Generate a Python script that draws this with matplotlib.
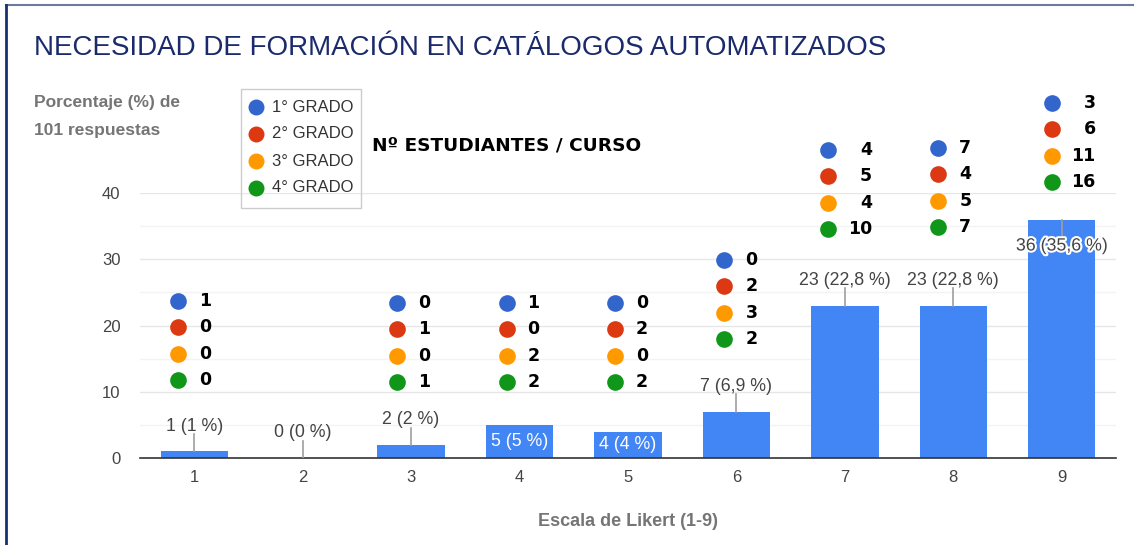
import matplotlib
matplotlib.use('Agg')
import matplotlib.pyplot as plt
import matplotlib.patheffects as pe
from matplotlib.lines import Line2D
from matplotlib.patches import Rectangle

# ---------------- data ----------------
likert = [1, 2, 3, 4, 5, 6, 7, 8, 9]
respuestas = [1, 0, 2, 5, 4, 7, 23, 23, 36]
porcentajes = ['1', '0', '2', '5', '4', '6,9', '22,8', '22,8', '35,6']
grado1 = [1, 0, 0, 1, 0, 0, 4, 7, 3]
grado2 = [0, 0, 1, 0, 2, 2, 5, 4, 6]
grado3 = [0, 0, 0, 2, 0, 3, 4, 5, 11]
grado4 = [0, 0, 1, 2, 2, 2, 10, 7, 16]
grados = ['1° GRADO', '2° GRADO', '3° GRADO', '4° GRADO']
colores = ['#3366CC', '#DC3912', '#FF9900', '#109618']
yticks = [0, 10, 20, 30, 40]

title = 'NECESIDAD DE FORMACIÓN EN CATÁLOGOS AUTOMATIZADOS'
ylab = ['Porcentaje (%) de', '101 respuestas']
xlab = 'Escala de Likert (1-9)'
subt = 'Nº ESTUDIANTES / CURSO'

# ---------------- layout (positions only) ----------------
label_mode = ['above', 'above', 'above', 'inside', 'inside', 'above', 'above', 'above', 'top']
group_top = [23.7, None, 23.4, 23.4, 23.4, 29.9, 46.5, 46.8, 53.6]   # y of first row (data units)
dot_dx_px = [-16, 0, -14, -13, -13, -12, -17, -15, -10]
row_step = 4.0

W, H = 1134, 545
fig = plt.figure(figsize=(W / 100, H / 100), dpi=100)
fig.patch.set_facecolor('white')

ax_l, ax_r, ax_b, ax_t = 140, 1116, 458, 193
ax = fig.add_axes([ax_l / W, 1 - ax_b / H, (ax_r - ax_l) / W, (ax_b - ax_t) / H])
ax.set_xlim(0.5, 9.5)
ax.set_ylim(0, 40)
px_per_x = (ax_r - ax_l) / 9.0

sans = 'Liberation Sans'
bold_font = 'DejaVu Sans'

# gridlines
for v in range(5, 40, 10):
    ax.axhline(v, color='#f3f3f3', lw=1, zorder=0)
for v in yticks[1:]:
    ax.axhline(v, color='#e6e6e6', lw=1, zorder=0)

ax.bar(likert, respuestas, width=0.62, color='#4285F4', zorder=2)

for s in ['top', 'right', 'left']:
    ax.spines[s].set_visible(False)
ax.spines['bottom'].set_color('#333333')
ax.spines['bottom'].set_linewidth(1.2)
ax.set_xticks(likert)
ax.set_xticklabels([str(v) for v in likert])
ax.set_yticks(yticks)
ax.tick_params(axis='both', length=0, labelsize=12, colors='#444444', labelfontfamily=sans)
ax.tick_params(axis='x', pad=9)
ax.tick_params(axis='y', pad=14)
ax.set_xlabel(xlab, fontsize=13, fontweight='bold', color='#757575', family=sans, labelpad=20)

# bar value labels
for x, v, p, mode in zip(likert, respuestas, porcentajes, label_mode):
    txt = f'{v} ({p} %)'
    if mode == 'above':
        ax.plot([x, x], [v, v + 2.6], color='#9e9e9e', lw=1.2, zorder=3)
        ax.text(x, v + 3.8, txt, ha='center', va='center', fontsize=12.8, color='#444444',
                family=sans, zorder=4)
    elif mode == 'inside':
        ax.text(x, v / 2, txt, ha='center', va='center', fontsize=12.8, color='white',
                family=sans, zorder=4)
    else:
        ax.plot([x, x], [v, v - 2.8], color='#9e9e9e', lw=1.2, zorder=3)
        ax.text(x, v - 4.0, txt, ha='center', va='center', fontsize=12.8, color='#444444',
                family=sans, zorder=4,
                path_effects=[pe.withStroke(linewidth=3, foreground='white')])

# per-course annotations
series = [grado1, grado2, grado3, grado4]
for i, x in enumerate(likert):
    if group_top[i] is None:
        continue
    dx = dot_dx_px[i] / px_per_x
    vals = [s[i] for s in series]
    two_digit = max(vals) >= 10
    for r, (val, c) in enumerate(zip(vals, colores)):
        y = group_top[i] - r * row_step
        ax.plot([x + dx], [y], marker='o', ms=12, color=c, mec='none', clip_on=False, zorder=5)
        if two_digit:
            ax.annotate(str(val), xy=(x + dx, y), xytext=(44 * 0.72, 0), textcoords='offset points',
                        ha='right', va='center', fontsize=12.5, fontweight='bold', color='black',
                        family=bold_font, annotation_clip=False, zorder=5)
        else:
            ax.annotate(str(val), xy=(x + dx, y), xytext=(21 * 0.72, 0), textcoords='offset points',
                        ha='left', va='center', fontsize=12.5, fontweight='bold', color='black',
                        family=bold_font, annotation_clip=False, zorder=5)

# overlay axes in pixel coordinates for decorations
ov = fig.add_axes([0, 0, 1, 1], facecolor='none')
ov.set_xlim(0, W)
ov.set_ylim(H, 0)
ov.axis('off')

# border
ov.add_line(Line2D([6, W], [5, 5], color='#6c7aa0', lw=1.5))
ov.add_line(Line2D([6, 6], [5, H], color='#1a2f6e', lw=2))

ov.text(34, 48, title, ha='left', va='center', fontsize=20, color='#1b2a6b', family=sans)
ov.text(34, 102, ylab[0], ha='left', va='center', fontsize=12.5, fontweight='bold',
        color='#757575', family=sans)
ov.text(34, 130, ylab[1], ha='left', va='center', fontsize=12.5, fontweight='bold',
        color='#757575', family=sans)
ov.text(372, 145, subt, ha='left', va='center', fontsize=13.3, fontweight='bold',
        color='black', family=bold_font)

# legend box
ov.add_patch(Rectangle((241, 89), 120, 119, fill=False, ec='#cccccc', lw=1))
for k, (g, c) in enumerate(zip(grados, colores)):
    yy = 107 + k * 27
    ov.plot([256], [yy], marker='o', ms=11.5, color=c, mec='none')
    ov.text(272, yy, g, ha='left', va='center', fontsize=12, color='#333333', family=sans)

fig.savefig('out.png', dpi=100, facecolor='white')
